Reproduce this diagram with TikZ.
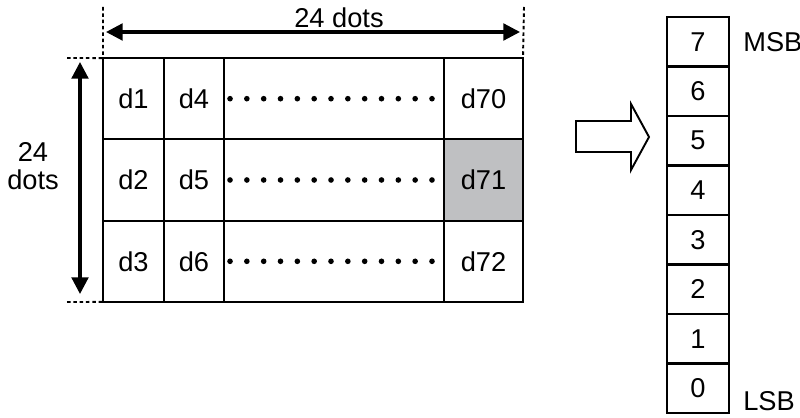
\documentclass[tikz,border=0pt]{standalone}
\usepackage{fontspec}
\setmainfont{Liberation Sans}
\usepackage{tikz}
\usetikzlibrary{arrows.meta,positioning,calc}
\definecolor{cellgray}{RGB}{191,192,194}

\begin{document}
\begin{tikzpicture}[x=0.02cm, y=-0.02cm, every node/.style={font=\fontsize{15.5}{16}\selectfont}]
\tikzset{cell/.style={draw, line width=1.2pt, inner sep=0pt, outer sep=0pt, minimum height=1.626cm}}
\tikzset{bitbox/.style={draw, line width=1.4pt, inner sep=0pt, outer sep=0pt, minimum width=1.24cm, minimum height=0.99cm}}
\tikzset{dimarrow/.style={{Triangle[length=9.5pt,width=9.5pt]}-{Triangle[length=9.5pt,width=9.5pt]}, line width=1.8pt}}
\tikzset{guide/.style={line width=1.1pt, dash pattern=on 2pt off 1.6pt}}
\useasboundingbox (0,0) rectangle (800,418);
% 24x24 dot image
\node[cell, minimum width=1.22cm] (d1) at (133.5,98.7) {d1};
\node[cell, minimum width=1.2cm] (d4) at (194,98.7) {d4};
\node[cell, minimum width=4.4cm] (dots1) at (334,98.7) {};
\node[cell, minimum width=1.58cm] (d70) at (483.5,98.7) {d70};
\node[cell, minimum width=1.22cm] (d2) at (133.5,180) {d2};
\node[cell, minimum width=1.2cm] (d5) at (194,180) {d5};
\node[cell, minimum width=4.4cm] (dots2) at (334,180) {};
\node[cell, minimum width=1.58cm, fill=cellgray] (d71) at (483.5,180) {d71};
\node[cell, minimum width=1.22cm] (d3) at (133.5,261.3) {d3};
\node[cell, minimum width=1.2cm] (d6) at (194,261.3) {d6};
\node[cell, minimum width=4.4cm] (dots3) at (334,261.3) {};
\node[cell, minimum width=1.58cm] (d72) at (483.5,261.3) {d72};
\foreach \r in {1,2,3}
  \foreach \i in {0,...,12}
    \fill ($(dots\r.west)+(6+\i*16.83,0)$) circle[radius=1.6pt];
% dimensions
\coordinate (gTop) at (67,58);
\coordinate (gBot) at (67,302);
\coordinate (gLeft) at (103,7);
\coordinate (gRight) at (524,7);
\draw[guide] (gTop) -- (d1.north west);
\draw[guide] (gBot) -- (d3.south west);
\draw[guide] (gLeft) -- (d1.north west);
\draw[guide] (gRight) -- (d70.north east);
\coordinate (wL) at (106,32);
\coordinate (wR) at (520,32);
\coordinate (hT) at (80,62);
\coordinate (hB) at (80,294);
\draw[dimarrow] (wL) -- (wR);
\draw[dimarrow] (hT) -- (hB);
\node (wlabel) at (339,18) {24 dots};
\node[align=center] (hlabel) at (33,166) {24\\dots};
% hollow arrow
\draw[line width=1.1pt] (576,121) -- (631,121) -- (631,104) -- (649,137) -- (631,170) -- (631,152) -- (576,152) -- cycle;
% one byte
\foreach \b in {0,...,7}
  \node[bitbox] (b\b) at (698,{41.75+(7-\b)*49.5}) {\b};
\node[right=0.28cm of b7, inner sep=0pt] (msb) {MSB};
\node[right=0.28cm of b0, inner sep=0pt, yshift=-0.25cm] (lsb) {LSB};
\end{tikzpicture}
\end{document}
